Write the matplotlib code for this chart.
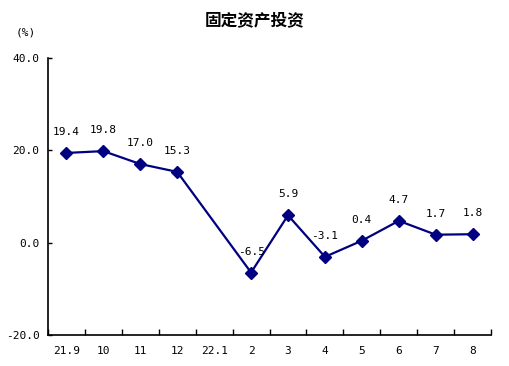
import numpy as np
import matplotlib
matplotlib.use('Agg')
import matplotlib.pyplot as plt

plt.rcParams['font.family'] = ['Noto Sans CJK SC', 'DejaVu Sans']

# 数据
months = ["21.9", "10", "11", "12", "22.1", "2", "3", "4", "5", "6", "7", "8"]
growth = [19.4, 19.8, 17.0, 15.3, None, -6.5, 5.9, -3.1, 0.4, 4.7, 1.7, 1.8]
yticks = [-20.0, 0.0, 20.0, 40.0]

xs = [i for i, v in enumerate(growth) if v is not None]
ys = [v for v in growth if v is not None]

fig = plt.figure(figsize=(5.1, 3.66), dpi=100)
ax = fig.add_axes([0.094, 0.085, 0.869, 0.757])

navy = '#000080'
ax.plot(xs, ys, color=navy, linewidth=1.6, marker='D', markersize=6.5,
        markerfacecolor=navy, markeredgecolor=navy, zorder=3)

mono = ['DejaVu Sans Mono']
for x, y in zip(xs, ys):
    ax.annotate(f"{y:.1f}", (x, y), xytext=(0, 15), textcoords='offset points',
                ha='center', va='center', fontsize=8, family=mono)

ax.set_xlim(-0.5, len(months) - 0.5)
ax.set_ylim(-20, 40)
ax.set_yticks(yticks)
ax.set_yticklabels([f"{t:.1f}" for t in yticks], fontsize=8, family=mono)
ax.tick_params(axis='y', direction='in', length=3, pad=6, width=1)

ax.set_xticks(np.arange(-0.5, len(months), 1))
ax.set_xticklabels([])
ax.tick_params(axis='x', which='major', direction='in', length=4, width=1)
ax.set_xticks(range(len(months)), minor=True)
ax.set_xticklabels(months, minor=True, fontsize=8, family=mono)
ax.tick_params(axis='x', which='minor', length=0, pad=8)

for s in ['top', 'right']:
    ax.spines[s].set_visible(False)
for s in ['left', 'bottom']:
    ax.spines[s].set_linewidth(1.2)

fig.text(0.5, 0.945, "固定资产投资", ha='center', va='center', fontsize=12, fontweight='bold')
fig.text(0.05, 0.91, "(%)", ha='center', va='center', fontsize=8, family=mono)

fig.savefig("out.png", dpi=100)
